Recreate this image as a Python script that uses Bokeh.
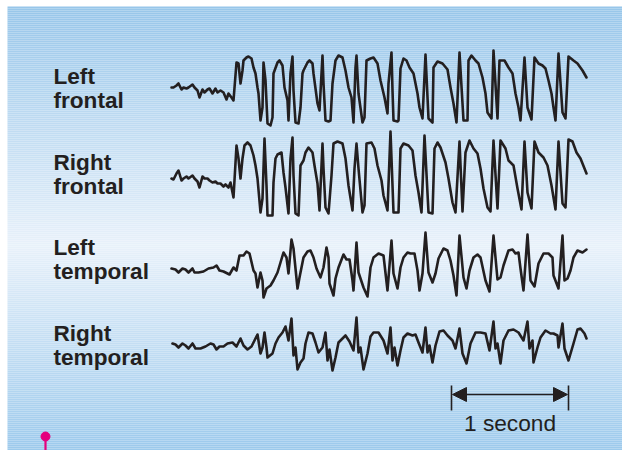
from bokeh.plotting import figure
from bokeh.models import Range1d, Arrow, NormalHead
from bokeh.core.properties import value
from bokeh.embed import file_html
from bokeh.resources import INLINE

# time units: FS units = 1 second ; amplitude in arbitrary units (positive up)
FS = 117
channel_names = [("Left", "frontal"), ("Right", "frontal"), ("Left", "temporal"), ("Right", "temporal")]
scale_label = "1 second"

lf_t = [-1, 1, 4, 6, 9, 11, 14, 16, 20, 22, 25, 27, 30, 32, 35, 37, 40, 43, 45, 48, 51, 54, 56, 59, 61,
        64, 66, 68, 70, 71, 74, 76, 79, 81, 83, 85, 86, 88, 90, 91, 93, 95, 98, 100, 101, 105, 107, 110,
        112, 115, 116, 118, 120, 121, 123, 126, 128, 130, 131, 135, 137, 140, 141, 145, 147, 150, 151,
        153, 156, 158, 160, 163, 166, 170, 173, 176, 179, 181, 183, 184, 186, 190, 192, 194, 198, 201,
        205, 208, 212, 215, 216, 219, 220, 221, 225, 226, 228, 231, 234, 237, 241, 245, 247, 250, 253,
        256, 260, 261, 265, 270, 275, 278, 281, 284, 287, 291, 295, 296, 299, 303, 306, 310, 313, 315,
        319, 321, 325, 327, 332, 336, 340, 343, 346, 348, 352, 355, 359, 362, 366, 370, 373, 376, 379,
        381, 383, 386, 390, 393, 396, 401, 405, 410, 414]
lf_a = [3, 3, 5, 7, 1, 3, 2, 3, 6, 3, 0, -7, 1, -2, 1, 2, -3, 2, -2, 0, -2, -9, -3, -7, -10,
        28, 27, 7, 20, 30, 33, 34, 32, 23, 17, 3, -3, -30, -17, 28, 10, -33, -35, -27, 17, 28, 30, 25,
        3, -10, -30, 17, 34, 0, -32, -33, -17, 17, 20, 28, 30, 27, 17, -13, -20, 35, 7,
        -30, -31, -30, 7, 30, 35, 33, 20, 3, -7, -32, 23, 35, -3, -32, -27, 30, 32, 33,
        27, 10, -7, -23, 7, 38, 0, -30, -31, -30, 22, 32, 30, 23, 17, -3, -17, -28, 36,
        -28, -32, 23, 29, 27, 21, 3, -13, -32, 38, -30, -30, 30, 35, 30, 27, 13, -3, -22,
        -28, 40, -28, 30, 30, 23, 17, -3, -17, -30, 33, -17, -29, 33, 27, 25, 22, 10, -3,
        -17, -30, 37, -22, -28, 34, 30, 27, 20, 13]

rf_t = [-1, 1, 4, 6, 9, 11, 14, 16, 20, 22, 25, 27, 30, 32, 35, 37, 40, 43, 45, 48, 51, 53, 56, 58, 61,
        64, 66, 68, 70, 72, 75, 78, 81, 83, 85, 88, 90, 92, 94, 95, 100, 101, 103, 105, 109, 111, 113,
        116, 118, 120, 121, 123, 126, 128, 131, 133, 136, 140, 142, 145, 147, 150, 151, 153, 156, 159,
        161, 165, 170, 173, 176, 180, 182, 184, 186, 190, 192, 194, 199, 202, 205, 209, 211, 215, 218,
        221, 226, 228, 231, 236, 240, 243, 246, 249, 252, 256, 260, 262, 265, 268, 273, 276, 280, 283,
        287, 290, 293, 297, 301, 305, 308, 311, 315, 318, 321, 325, 328, 333, 336, 341, 345, 349, 352,
        355, 359, 362, 366, 371, 375, 379, 383, 386, 390, 393, 396, 400, 404, 408, 414]
rf_a = [0, -1, 5, 8, -2, 0, 2, 0, 3, 0, -3, -9, 2, 0, 0, -2, -4, -3, -5, -5, -8, -6, -9, -4, -19,
        33, 20, 0, 20, 33, 36, 33, 23, 13, 0, -34, -20, 40, -7, -37, -37, -4, 20, 24, 26, 6, -9,
        -35, 20, 41, 3, -35, -37, 13, 18, 26, 31, 26, 13, -5, -32, 35, 10, -29, -35, 3,
        35, 37, 35, 20, -7, -32, 10, 35, 10, -34, -27, 35, 36, 30, 13, -2, -17, -32, 47,
        -34, -34, 30, 35, 33, 28, 3, -14, -34, 43, -34, -35, 30, 36, 31, 16, 0, -24, -34,
        37, -33, 26, 38, 30, 25, 10, -10, -29, -33, 38, -30, 38, 30, 18, 13, -10, -31, 37,
        -14, -30, 37, 26, 21, 13, -7, -31, 37, -25, -29, 39, 37, 26, 20, 5]

lt_t = [-1, 3, 6, 10, 13, 16, 20, 22, 26, 31, 36, 41, 44, 47, 51, 57, 61, 64, 67, 71, 74, 77, 81, 83,
        85, 88, 90, 91, 94, 98, 101, 105, 108, 111, 114, 116, 119, 121, 123, 125, 127, 131, 135, 138,
        141, 144, 148, 151, 154, 156, 157, 161, 163, 166, 171, 174, 177, 180, 181, 184, 186, 191, 195,
        198, 201, 206, 211, 215, 219, 221, 225, 228, 231, 235, 238, 242, 245, 247, 250, 253, 256, 260,
        263, 266, 271, 275, 278, 281, 284, 287, 291, 294, 297, 301, 305, 308, 313, 317, 321, 325, 328,
        331, 336, 340, 343, 346, 348, 351, 355, 358, 362, 366, 371, 376, 380, 381, 386, 390, 392, 395,
        398, 401, 405, 410, 414]
lt_a = [0, -1, -4, 0, -1, -4, 0, -4, -4, -3, 0, 1, 3, -2, -3, -6, 1, -2, 13, 13, 17, 15, -2, -5,
        -19, -4, -12, -29, -20, -17, -12, -4, 6, 16, 11, -5, 29, 20, 0, -20, -9, 11, 17, 18,
        11, 0, -9, 1, 21, 11, -15, -27, -10, 1, 14, 9, 9, -12, -22, 26, -4, -19, -28,
        1, 11, 15, 13, -22, 28, -5, -20, 1, 11, 16, 15, 15, -2, -22, -5, 36, -4, -14,
        -5, 10, 20, 18, 8, -7, -27, 33, -9, -20, -2, 11, 14, 11, -12, -23, 33, -11, -9,
        3, 18, 19, 15, 16, 0, -22, 34, -12, -18, 5, 15, 15, 11, -7, -20, 33, -12, -10,
        -2, 11, 18, 16, 19]

rt_t = [0, 3, 6, 10, 13, 16, 20, 23, 28, 33, 38, 41, 44, 47, 51, 55, 60, 64, 68, 71, 75, 79, 82, 85,
        88, 90, 92, 94, 95, 100, 103, 106, 110, 113, 116, 119, 121, 123, 125, 128, 131, 133, 136, 140,
        143, 146, 150, 153, 155, 157, 160, 163, 166, 173, 177, 181, 184, 186, 188, 191, 195, 198, 201,
        206, 211, 215, 218, 220, 222, 225, 228, 231, 235, 240, 243, 246, 250, 253, 255, 257, 260, 263,
        267, 271, 275, 280, 283, 287, 290, 294, 298, 303, 308, 313, 317, 321, 323, 325, 328, 331, 336,
        341, 346, 351, 355, 357, 360, 361, 365, 368, 373, 378, 381, 385, 386, 390, 392, 396, 401, 405,
        408, 412, 414]
rt_a = [2, 1, -2, 2, 0, -3, 2, -3, -3, -1, 2, 1, -4, -1, -1, 2, 3, -1, 7, 0, -4, -1, 5, 11,
        -8, -2, 13, -2, -12, -8, 2, 8, 13, 19, 5, 27, -10, -2, -24, -17, -13, 2, 13, 12,
        3, -7, -2, 13, -15, -4, -25, -12, 3, 10, 4, -5, 28, -7, -2, -24, -8, 9, 13,
        13, 5, -8, 18, -15, -2, -20, -5, 8, 12, 10, 11, 3, -7, 18, -7, 0, -17, 0,
        14, 15, 10, 5, -3, 17, -8, -18, 2, 13, 13, 12, -5, 24, -3, 2, -18, 5, 15,
        16, 13, 5, 24, -3, 5, -17, -2, 8, 15, 12, 12, 10, -2, 22, -3, -15, 2, 16,
        17, 12, 7]

series_t = [lf_t, rf_t, lt_t, rt_t]
series_a = [lf_a, rf_a, lt_a, rt_a]

# ---- layout (screen-like vertical coordinate: y = -pixel row) ----
W, H = 622, 450
X0 = -172                      # left edge in time units
TOP, BOT = 0, -450
PANEL_L, PANEL_T = X0 + 7, -6
offsets = [-90, -178, -268, -345]
label_base = [-76, -162, -247, -333]
LINE_GAP = 24
ink = "#231f20"

p = figure(width=W, height=H, output_backend="svg", toolbar_location=None,
           x_range=Range1d(X0, X0 + W), y_range=Range1d(BOT, TOP),
           x_axis_type=None, y_axis_type=None, min_border=0,
           background_fill_color="#ffffff", border_fill_color="#ffffff")
p.outline_line_color = None
p.grid.visible = False

# background gradient (light blue -> very light -> light blue)
stops = [(-6, (0x97, 0xc6, 0xea)), (-245, (0xe8, 0xf1, 0xfa)), (-452, (0x9b, 0xc9, 0xec))]
def col(y):
    for (y1, c1), (y2, c2) in zip(stops[:-1], stops[1:]):
        if y2 <= y <= y1:
            f = (y1 - y) / (y1 - y2)
            r = [round(a + (b - a) * f) for a, b in zip(c1, c2)]
            return "#%02x%02x%02x" % tuple(r)
    return "#%02x%02x%02x" % stops[-1][1]
tops, bots, cols = [], [], []
y = PANEL_T
while y > -452:
    tops.append(y); bots.append(y - 2); cols.append(col(y - 1)); y -= 2
p.quad(left=PANEL_L, right=X0 + W + 10, top=tops, bottom=bots, fill_color=cols, line_color=None)

# traces
for t, a, off in zip(series_t, series_a, offsets):
    p.line(t, [off + v for v in a], line_color=ink, line_width=2.6, line_join="round", line_cap="round")

# channel labels
lx, ly, lt = [], [], []
for (w1, w2), b in zip(channel_names, label_base):
    lx += [X0 + 53, X0 + 53]; ly += [b, b - LINE_GAP]; lt += [w1, w2]
p.text(lx, ly, text=lt, text_font=value("Liberation Sans"), text_font_style="bold",
       text_font_size="22.6px", text_color=ink, text_baseline="alphabetic", text_align="left")

# 1-second scale bar
s0 = 279
s1 = s0 + FS
p.segment([s0, s1], [-385, -385], [s0, s1], [-410, -410], line_color=ink, line_width=1.6)
p.add_layout(Arrow(x_start=s0 + 1, y_start=-394, x_end=s1 - 1, y_end=-394,
                   line_color=ink, line_width=1.6,
                   start=NormalHead(size=14, fill_color=ink, line_color=ink, line_width=1),
                   end=NormalHead(size=14, fill_color=ink, line_color=ink, line_width=1)))
p.text([(s0 + s1) / 2], [-422], text=[scale_label], text_font=value("Liberation Sans"),
       text_font_size="22.7px", text_color=ink, text_align="center", text_baseline="alphabetic")

# magenta pin marker
p.segment([X0 + 45], [-436], [X0 + 45], [-452], line_color="#e5007d", line_width=2.2)
p.scatter([X0 + 45], [-436], size=9, color="#e5007d")

open("out.html", "w").write(file_html(p, INLINE))
